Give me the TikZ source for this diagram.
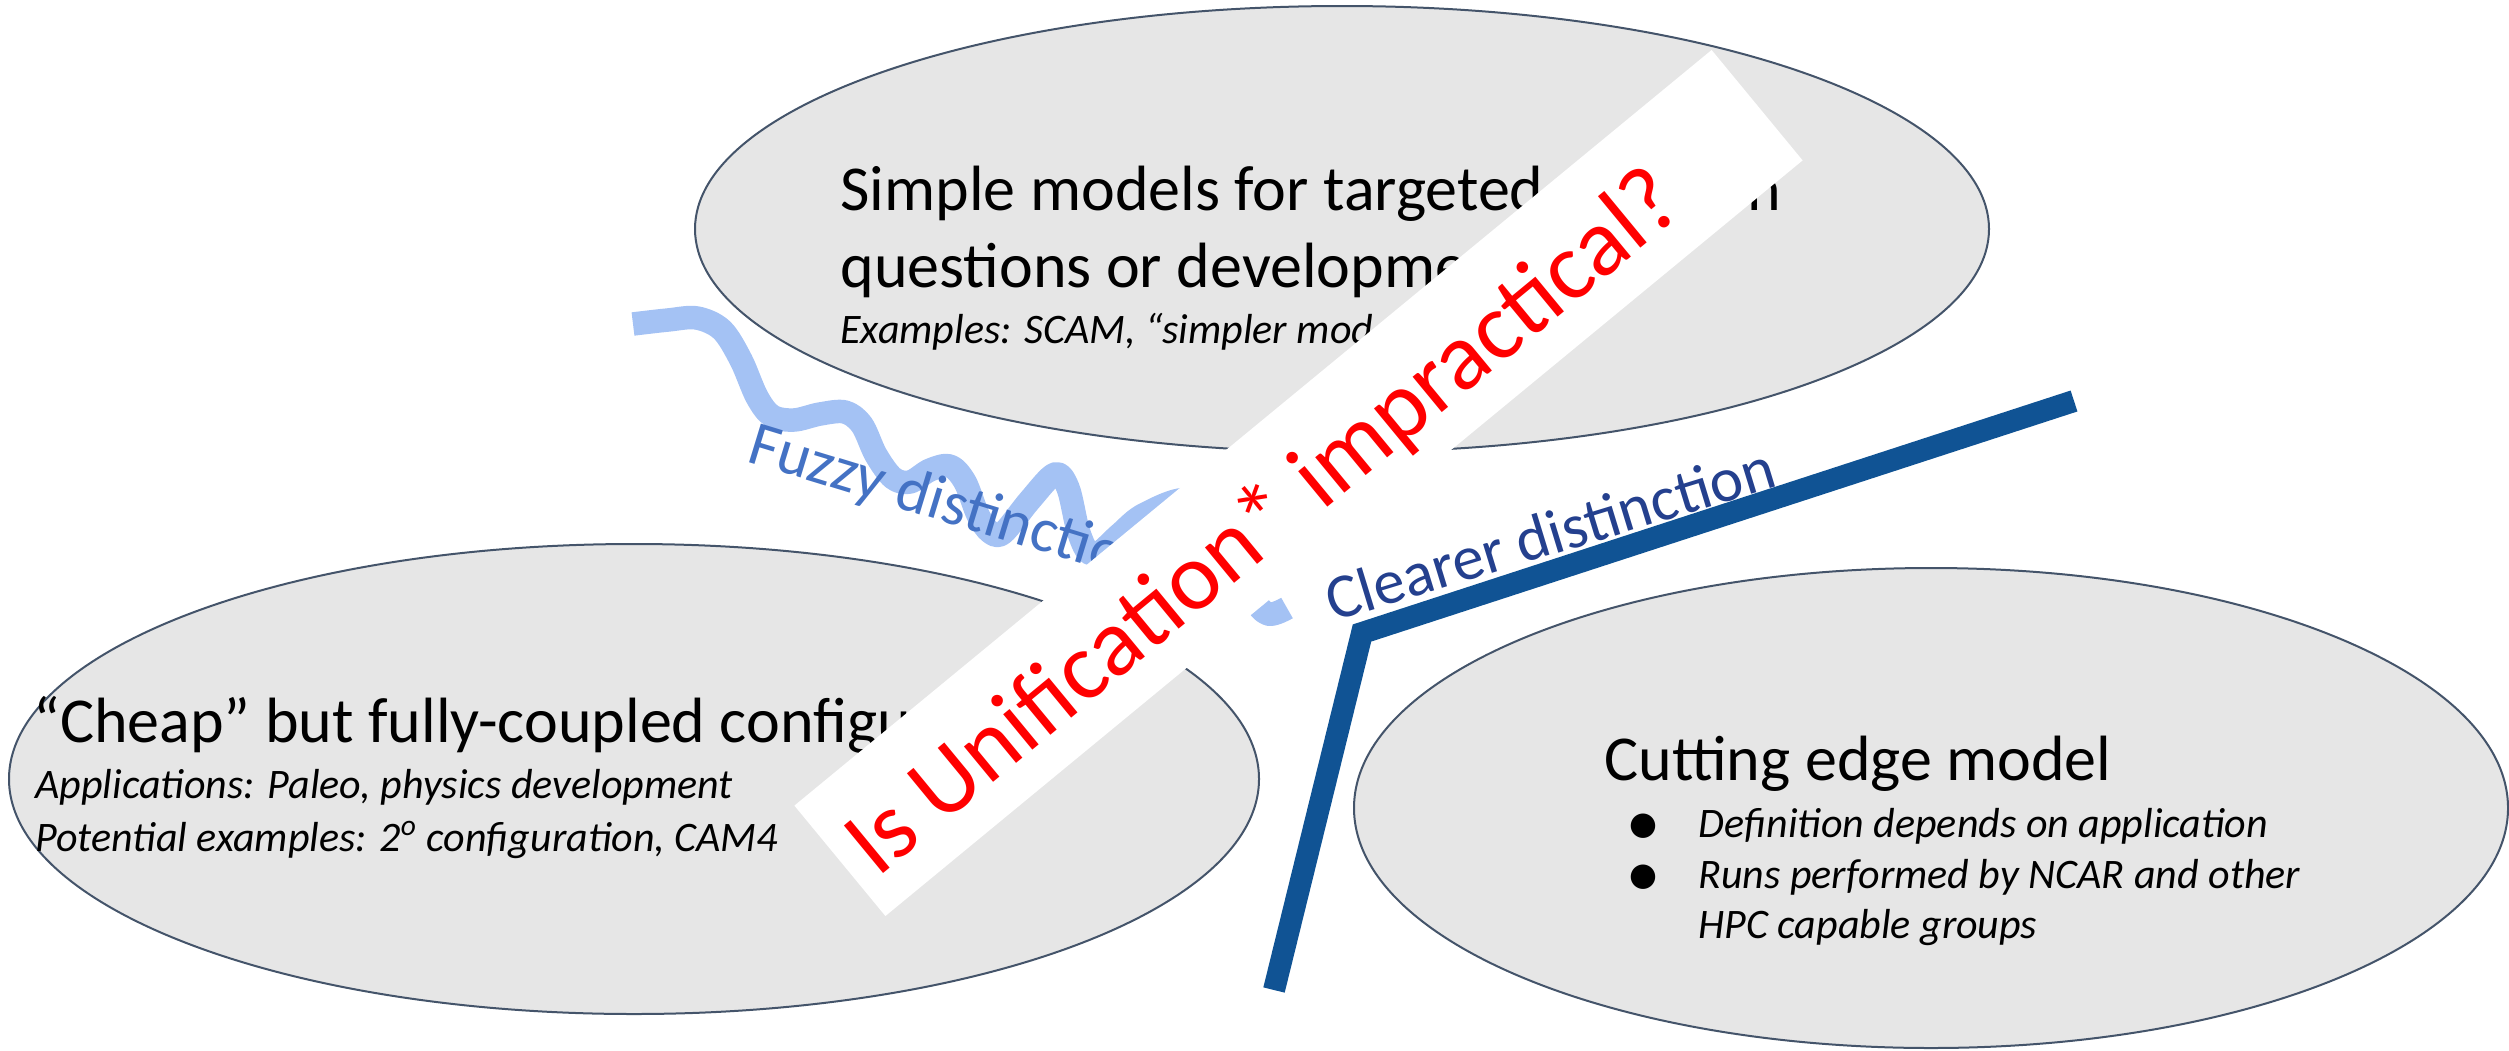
\documentclass[tikz,border=0pt]{standalone}
\usepackage{fontspec}
\setmainfont{Carlito}
\newfontfamily\dejavu{DejaVu Sans}
\definecolor{ellgray}{HTML}{E6E6E6}
\definecolor{ellline}{HTML}{44546A}
\definecolor{wavecol}{HTML}{A4C2F4}
\definecolor{fuzzblue}{HTML}{4472C4}
\definecolor{clearblue}{HTML}{24408E}
\definecolor{navyline}{HTML}{105394}
\definecolor{redq}{HTML}{FF0000}
\tikzset{
  ell/.style={fill=ellgray, draw=ellline, line width=1pt},
  ttl/.style={anchor=base west, inner sep=0pt, font=\fontsize{32}{38}\selectfont},
  sub/.style={anchor=base west, inner sep=0pt, font=\fontsize{21}{25}\selectfont\itshape},
  redtxt/.style={text=redq, anchor=base, inner sep=0pt, font=\fontsize{48}{58}\selectfont},
  fuzztxt/.style={text=fuzzblue, anchor=base west, inner sep=0pt, font=\fontsize{31.5}{38}\selectfont},
  cleartxt/.style={text=clearblue, anchor=base west, inner sep=0pt, font=\fontsize{31.5}{38}\selectfont},
  wavepath/.style={draw=wavecol, line width=11.75pt, line cap=butt, line join=round},
  navypath/.style={draw=navyline, line width=11pt, line cap=butt, line join=miter},
  bulletmark/.style={inner sep=0pt, anchor=center, font=\dejavu\fontsize{16}{16}\selectfont},
  banner/.style={fill=white, draw=none}
}
\begin{document}
\begin{tikzpicture}[x=0.5pt,y=-0.5pt]
\useasboundingbox (0,0) rectangle (2509,1050);
% ellipses
\path[ell] (1342,229) ellipse [x radius=323.5pt, y radius=111.5pt];
\path[ell] (634,779) ellipse [x radius=312.5pt, y radius=117.5pt];
\path[ell] (1931,808) ellipse [x radius=288.5pt, y radius=120pt];
% top ellipse text
\node[ttl] (t1) at (840,210) {Simple models for targeted research};
\node[ttl] (t2) at (840,287) {questions or development};
\node[sub] (t3) at (840,343) {Examples: SCAM, “simpler models”};
% left ellipse text
\node[ttl] (l1) at (33,742) {“Cheap” but fully-coupled configuration};
\node[sub] (l2) at (35,798) {Applications: Paleo, physics development};
\node[sub] (l3) at (35,851) {Potential examples: 2\textsuperscript{o} configuration, CAM4};
% right ellipse text
\node[ttl] (r1) at (1604,780) {Cutting edge model};
\node[bulletmark] (rb1) at (1643,826) {●};
\node[sub] (r2) at (1698,837) {Definition depends on application};
\node[bulletmark] (rb2) at (1643,877) {●};
\node[sub] (r3) at (1698,888) {Runs performed by NCAR and other};
\node[sub] (r4) at (1698,938) {HPC capable groups};
% wavy line
\draw[wavepath] plot[smooth, tension=0.55] coordinates {
 (633,324) (668,320) (697,318) (722,330) (741,360) (757,397) (772,416)
 (794,420) (820,414) (845,412) (862,425) (876,455) (893,478) (910,482)
 (930,470) (950,466) (965,482) (978,515) (990,532) (1003,533) (1030,500)
 (1055,474) (1068,488) (1078,530) (1088,552) (1100,552) (1120,534)
 (1145,514) (1190,500) (1228,535) (1252,595) (1268,614) (1287,608)};
\node[fuzztxt, rotate=-17] (fz) at (745,461) {Fuzzy distinction};
% banner
\path[banner] (1711.6,50.0) -- (1802.6,160.4) -- (885.4,916) -- (794.4,805.6) -- cycle;
\node[redtxt, rotate=39.5] (q) at (1282.2,544.4) {Is Unification* impractical?};
% clearer distinction line
\coordinate (lnB) at (1274,990);
\coordinate (lnC) at (1362,633);
\coordinate (lnT) at (2074,401);
\draw[navypath] (lnB) -- (lnC) -- (lnT);
\node[cleartxt, rotate=17] (cl) at (1333,622) {Clearer distinction};
\end{tikzpicture}
\end{document}
